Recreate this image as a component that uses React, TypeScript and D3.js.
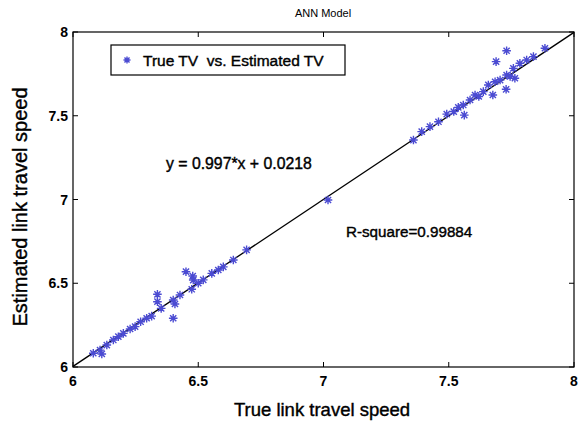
import { scaleLinear } from 'd3'
import type { ReactNode } from 'react'

// observed (true) vs estimated link travel speed
let trueTV = [
  6.081, 6.115, 6.108, 6.135, 6.161, 6.181, 6.201, 6.228, 6.248, 6.270, 6.294, 6.314,
  6.337, 6.337, 6.352, 6.400, 6.407, 6.400, 6.427, 6.451, 6.478, 6.480, 6.474, 6.500,
  6.520, 6.554, 6.580, 6.600, 6.640, 6.693, 7.018,
  7.359, 7.392, 7.425, 7.459, 7.492, 7.520, 7.538, 7.558, 7.562, 7.585, 7.605, 7.620,
  7.638, 7.658, 7.676, 7.685, 7.705, 7.689, 7.731, 7.729, 7.731, 7.745, 7.758, 7.764,
  7.784, 7.811, 7.838, 7.884,
]
let estTV = [
  6.082, 6.078, 6.101, 6.131, 6.161, 6.181, 6.201, 6.227, 6.241, 6.270, 6.291, 6.304,
  6.434, 6.390, 6.350, 6.400, 6.376, 6.291, 6.430, 6.569, 6.543, 6.519, 6.464, 6.500,
  6.520, 6.559, 6.579, 6.598, 6.639, 6.699, 6.997,
  7.355, 7.405, 7.435, 7.464, 7.510, 7.525, 7.550, 7.564, 7.504, 7.594, 7.624, 7.615,
  7.644, 7.684, 7.624, 7.703, 7.713, 7.823, 7.888, 7.658, 7.743, 7.735, 7.783, 7.724,
  7.813, 7.833, 7.853, 7.903,
]

let ticks = [6, 6.5, 7, 7.5, 8]
let fitSlope = 0.997
let fitIntercept = 0.0218

let Txt = ({ x, y, size, anchor = 'start', bold = false, rotate = false, children }:
  { x: number, y: number, size: number, anchor?: string, bold?: boolean, rotate?: boolean, children: ReactNode }) => {
  let tf = rotate ? `translate(${x},${y}) rotate(-90)` : `translate(${x},${y})`
  return (
    <text transform={tf} fontSize={size} textAnchor={anchor} fontWeight={bold ? 'bold' : 'normal'}
      stroke={bold ? 'none' : '#000'} strokeWidth={bold ? 0 : 0.4} xmlSpace="preserve">
      {children}
    </text>
  )
}

let App = () => {
  let width = 580
  let height = 424
  let left = 73
  let right = 574
  let top = 32
  let bottom = 367

  let xScale = scaleLinear().domain([6, 8]).range([left, right])
  let yScale = scaleLinear().domain([6, 8]).range([bottom, top])

  let font = 'Liberation Sans, Arial, sans-serif'
  let blue = '#4b4bd2'
  let tickLen = 5

  // matlab style '*' = plus + cross
  let star = (cx: number, cy: number, r: number) => {
    let d = r * 0.72
    return `M${cx - r},${cy}H${cx + r}M${cx},${cy - r}V${cy + r}` +
      `M${cx - d},${cy - d}L${cx + d},${cy + d}M${cx - d},${cy + d}L${cx + d},${cy - d}`
  }

  return (
    <svg width={width} height={height} style={{ position: 'absolute', left: 0, top: 0, background: '#fff' }}
      fontFamily={font}>
      <text x={323} y={17} fontSize={11} textAnchor="middle">ANN Model</text>

      {/* fit line */}
      <line x1={xScale(6)} y1={yScale(fitSlope * 6 + fitIntercept)}
        x2={xScale(8)} y2={yScale(fitSlope * 8 + fitIntercept)}
        stroke="#000" strokeWidth={1.3} />

      {trueTV.map((t, i) => (
        <path key={i} d={star(xScale(t), yScale(estTV[i]), 4.3)} stroke={blue} strokeWidth={1.4} fill="none" />
      ))}

      {/* box */}
      <rect x={left} y={top} width={right - left} height={bottom - top} fill="none" stroke="#000" strokeWidth={1.2} />

      {ticks.map(t => (
        <g key={t}>
          <line x1={xScale(t)} x2={xScale(t)} y1={bottom} y2={bottom - tickLen} stroke="#000" />
          <line x1={xScale(t)} x2={xScale(t)} y1={top} y2={top + tickLen} stroke="#000" />
          <line x1={left} x2={left + tickLen} y1={yScale(t)} y2={yScale(t)} stroke="#000" />
          <line x1={right} x2={right - tickLen} y1={yScale(t)} y2={yScale(t)} stroke="#000" />
          <Txt x={xScale(t)} y={bottom + 19} size={14} bold anchor="middle">{t}</Txt>
          <Txt x={left - 5} y={yScale(t) + 5} size={14} bold anchor="end">{t}</Txt>
        </g>
      ))}

      {/* legend */}
      <rect x={111} y={45} width={234} height={30} fill="#fff" stroke="#000" strokeWidth={1.2} />
      <path d={star(127, 60, 3.5)} stroke={blue} strokeWidth={1.4} fill="none" />
      <Txt x={143} y={66} size={15.5}>True TV  vs. Estimated TV</Txt>

      <Txt x={166} y={169} size={15.8}>y = 0.997*x + 0.0218</Txt>
      <Txt x={346} y={237} size={15.2}>R-square=0.99884</Txt>

      <Txt x={322} y={416} size={18.5} anchor="middle">True link travel speed</Txt>
      <Txt x={27} y={207} size={20} anchor="middle" rotate>Estimated link travel speed</Txt>
    </svg>
  )
}

export default App
